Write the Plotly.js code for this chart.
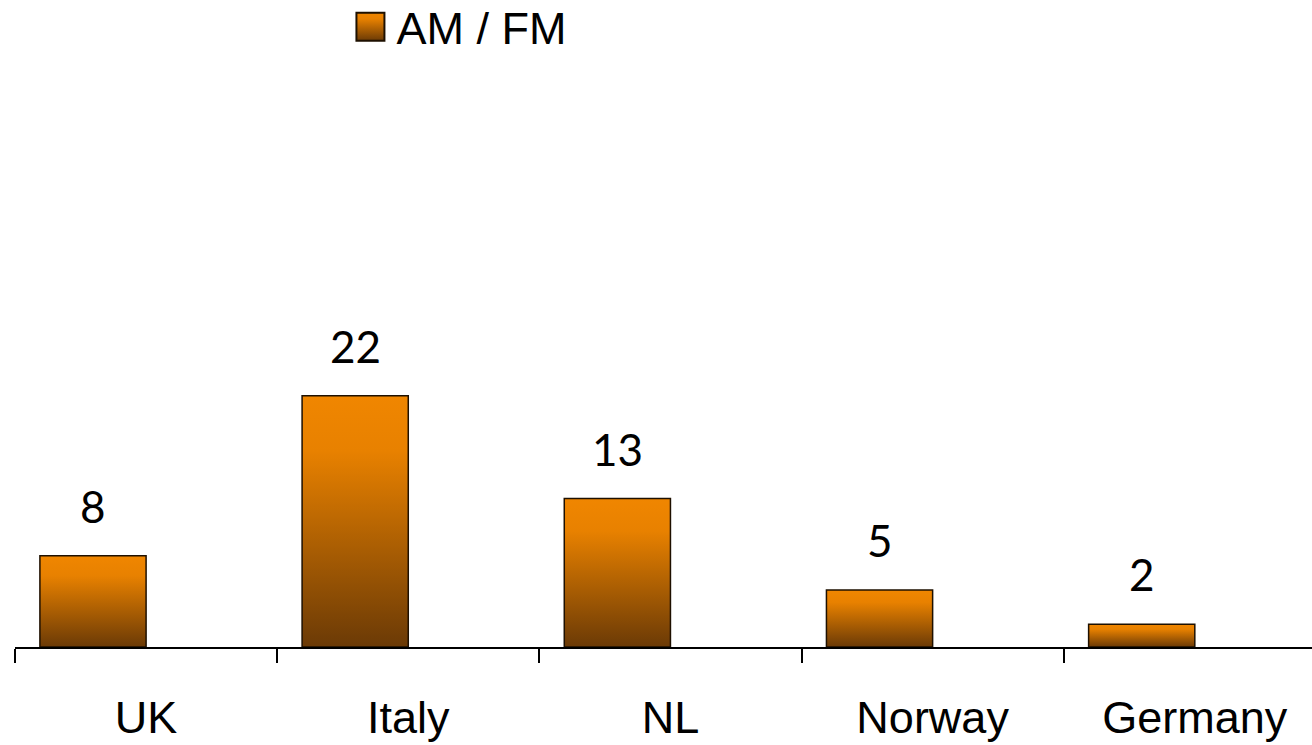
<!DOCTYPE html>
<html>
<head>
<meta charset="utf-8">
<script src="https://cdn.plot.ly/plotly-3.0.1.min.js"></script>
<style>
  html, body { margin: 0; padding: 0; background: #ffffff; }
  #chart { width: 1312px; height: 745px; }
</style>
</head>
<body>
<div id="chart"></div>
<script>
// Radio (AM / FM) counts per country
const countries = ['UK', 'Italy', 'NL', 'Norway', 'Germany'];
const amfm = [8, 22, 13, 5, 2];
const seriesName = 'AM / FM';

const barTrace = {
  type: 'bar',
  name: seriesName,
  x: countries,
  y: amfm,
  offset: -0.405,
  width: 0.405,
  marker: { color: '#E07C00', line: { color: '#1e1000', width: 1.5 } },
  hoverinfo: 'skip',
  showlegend: true
};

// value labels above each bar
const valueLabels = countries.map((c, i) => ({
  x: c, y: amfm[i], xref: 'x', yref: 'y',
  text: String(amfm[i]),
  showarrow: false,
  xshift: -53, yshift: 22, yanchor: 'bottom',
  font: { family: 'Lato, "Open Sans", sans-serif', size: 44, color: '#000000' }
}));

const layout = {
  width: 1312, height: 745,
  margin: { l: 15, r: 0, t: 76, b: 98, autoexpand: false },
  paper_bgcolor: '#ffffff', plot_bgcolor: '#ffffff',
  showlegend: true,
  legend: {
    x: 0.254, xanchor: 'left', y: 1.0858, yanchor: 'middle',
    orientation: 'h', itemwidth: 42,
    font: { family: '"Liberation Sans", Arial, sans-serif', size: 45, color: '#000000' },
    bgcolor: 'rgba(0,0,0,0)'
  },
  xaxis: {
    type: 'category',
    range: [-0.5, 4.447],
    showline: true, linecolor: '#000000', linewidth: 2,
    ticks: 'outside', tickson: 'boundaries', ticklen: 14, tickwidth: 2, tickcolor: '#000000',
    ticklabelstandoff: 30,
    tickfont: { family: '"Liberation Sans", Arial, sans-serif', size: 45, color: '#000000' },
    showgrid: false, zeroline: false, fixedrange: true, automargin: false
  },
  yaxis: {
    range: [0, 50], visible: false, showgrid: false, zeroline: false, fixedrange: true
  },
  annotations: valueLabels
};

Plotly.newPlot('chart', [barTrace], layout, { displayModeBar: false, staticPlot: true }).then(function (gd) {
  // vertical orange-to-brown gradient for the bars and legend swatch
  const svgNS = 'http://www.w3.org/2000/svg';
  const mainSvg = gd.querySelector('svg.main-svg');
  let defs = mainSvg.querySelector('defs');
  if (!defs) { defs = document.createElementNS(svgNS, 'defs'); mainSvg.insertBefore(defs, mainSvg.firstChild); }
  const grad = document.createElementNS(svgNS, 'linearGradient');
  grad.setAttribute('id', 'amfmGrad');
  grad.setAttribute('x1', '0'); grad.setAttribute('y1', '0');
  grad.setAttribute('x2', '0'); grad.setAttribute('y2', '1');
  [['0%', '#F08600'], ['22%', '#E88100'], ['100%', '#6B3A06']].forEach(function (s) {
    const st = document.createElementNS(svgNS, 'stop');
    st.setAttribute('offset', s[0]);
    st.setAttribute('stop-color', s[1]);
    grad.appendChild(st);
  });
  defs.appendChild(grad);

  gd.querySelectorAll('.barlayer .point path').forEach(function (p) {
    p.style.fill = 'url(#amfmGrad)';
  });
  gd.querySelectorAll('.legendpoints path').forEach(function (p) {
    p.setAttribute('d', 'M14,14H-14V-14H14Z');
    p.style.fill = 'url(#amfmGrad)';
    p.style.stroke = '#1e1000';
    p.style.strokeWidth = '2px';
  });
});
</script>
</body>
</html>
